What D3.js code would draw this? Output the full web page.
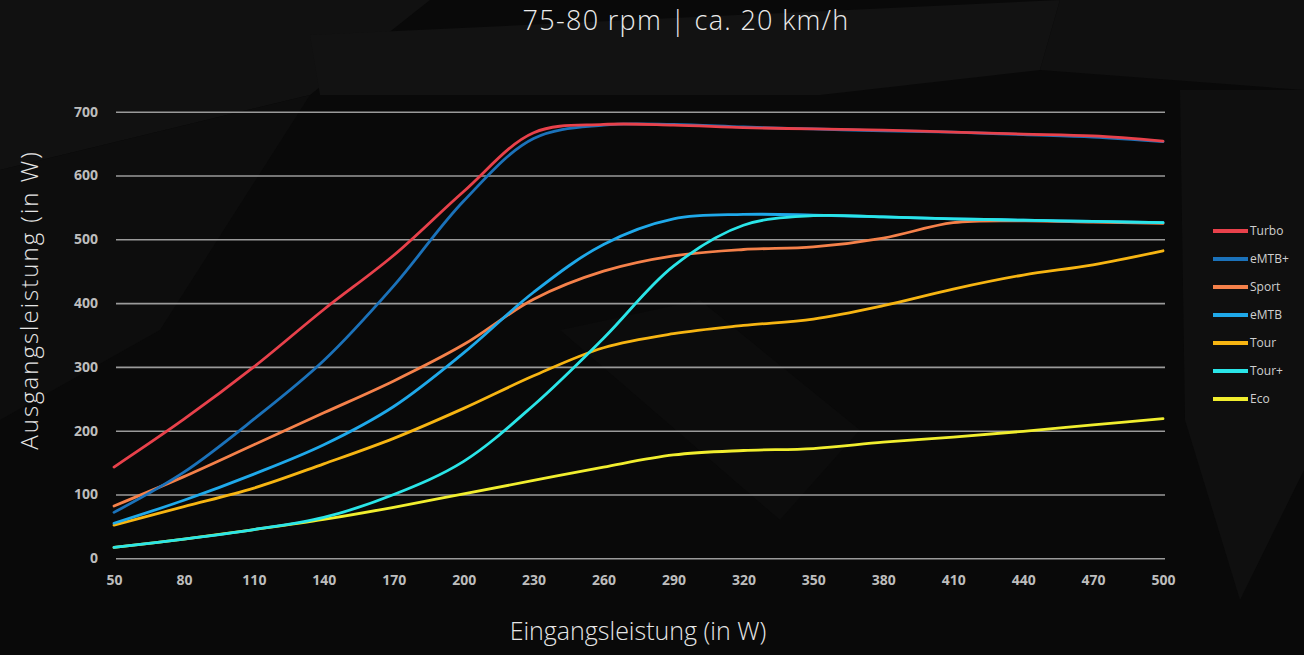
<!DOCTYPE html>
<html>
<head>
<meta charset="utf-8">
<script src="https://cdn.jsdelivr.net/npm/d3@7"></script>
<style>
  html, body { margin: 0; padding: 0; background: #090909; }
  svg { display: block; }
</style>
</head>
<body>
<main></main>
<script>
// Eingangsleistung (W) - Kategorien der x-Achse
const categories = [50, 80, 110, 140, 170, 200, 230, 260, 290, 320, 350, 380, 410, 440, 470, 500];
const yTicks = [0, 100, 200, 300, 400, 500, 600, 700];

// Ausgangsleistung (W) pro Modus
const turbo    = [143, 218, 300, 390, 475, 575, 667, 680, 679, 675, 673, 671, 668, 665, 662, 654];
const emtbPlus = [72, 135, 218, 310, 427, 560, 658, 679, 680, 676, 673, 670, 668, 664, 660, 653];
const sport    = [82, 128, 178, 228, 278, 335, 406, 450, 474, 484, 488, 502, 526, 529, 527, 525];
const emtb     = [55, 91, 132, 178, 238, 322, 417, 492, 532, 539, 538, 535, 532, 530, 528, 526];
const tour     = [52, 81, 110, 148, 188, 235, 286, 330, 352, 365, 375, 396, 422, 444, 460, 482];
const tourPlus = [17, 30, 45, 64, 100, 152, 240, 345, 458, 522, 537, 535, 532, 530, 528, 526];
const eco      = [17, 30, 45, 61, 80, 101, 122, 143, 162, 169, 172, 182, 190, 199, 209, 219];

const names  = ['Turbo', 'eMTB+', 'Sport', 'eMTB', 'Tour', 'Tour+', 'Eco'];
const values = [turbo, emtbPlus, sport, emtb, tour, tourPlus, eco];
const colors = ['#e8414b', '#1b72ba', '#f5814a', '#1fa9ea', '#f7b512', '#2ae5e8', '#f1ee2e'];
// Zeichenreihenfolge (untere Linien zuerst)
const drawOrder = [6, 4, 2, 3, 5, 1, 0];

const svgWidth = 1304, svgHeight = 655;
const margin = { top: 111.7, right: 141, bottom: 96.7, left: 114 };
const width = svgWidth - margin.left - margin.right;
const height = svgHeight - margin.top - margin.bottom;

const svg = d3.select('main').append('svg')
    .attr('width', svgWidth)
    .attr('height', svgHeight);

// Hintergrund (dunkle Polygone)
svg.append('rect').attr('width', svgWidth).attr('height', svgHeight).attr('fill', '#090909');
const bgPolys = [
    { pts: [[0, 0], [430, 0], [310, 95], [0, 170]], fill: '#111111' },
    { pts: [[310, 35], [1060, 0], [1040, 70], [820, 95], [320, 95]], fill: '#121212' },
    { pts: [[0, 170], [310, 95], [160, 330], [0, 420]], fill: '#0d0d0d' },
    { pts: [[1060, 0], [1304, 0], [1304, 90], [1040, 70]], fill: '#101010' },
    { pts: [[1180, 90], [1304, 90], [1304, 470], [1240, 600], [1185, 420]], fill: '#0f0f0f' },
    { pts: [[560, 330], [700, 300], [860, 430], [780, 520]], fill: '#0c0c0c' }
];
svg.append('g').selectAll('polygon')
    .data(bgPolys)
    .enter()
    .append('polygon')
    .attr('points', d => d.pts.map(p => p.join(',')).join(' '))
    .attr('fill', d => d.fill);

const g = svg.append('g')
    .attr('transform', `translate(${margin.left},${margin.top})`);

// Skalen
const xScale = d3.scaleLinear()
    .domain([d3.min(categories), d3.max(categories)])
    .range([0, width]);

const yScale = d3.scaleLinear()
    .domain([0, 700])
    .range([height, 0]);

// y-Achse mit Gitterlinien
const yAxis = g.append('g')
    .call(d3.axisLeft(yScale).tickValues(yTicks).tickSize(-(width + 2)).tickPadding(16));
yAxis.select('.domain').remove();
yAxis.selectAll('.tick line')
    .attr('x1', 2)
    .attr('stroke', '#9a9a9a')
    .attr('stroke-width', 1.6);
yAxis.selectAll('.tick text')
    .attr('fill', '#bdbdbd')
    .style('font', 'bold 14px "Open Sans", "Noto Sans", sans-serif');

// x-Achse
const xAxis = g.append('g')
    .attr('transform', `translate(0,${height})`)
    .call(d3.axisBottom(xScale).tickValues(categories).tickSize(0).tickPadding(17));
xAxis.select('.domain').remove();
xAxis.selectAll('.tick text')
    .attr('fill', '#bdbdbd')
    .style('font', 'bold 14px "Open Sans", "Noto Sans", sans-serif');

// Linien
const line = d3.line()
    .x((d, i) => xScale(categories[i]))
    .y(d => yScale(d))
    .curve(d3.curveCatmullRom.alpha(0.5));

g.selectAll('.serie')
    .data(drawOrder)
    .enter()
    .append('path')
    .attr('class', 'serie')
    .attr('d', k => line(values[k]))
    .attr('fill', 'none')
    .attr('stroke', k => colors[k])
    .attr('stroke-width', 2.8)
    .attr('stroke-linecap', 'round');

// Legende
const legend = svg.append('g')
    .attr('transform', 'translate(1213,231)');
const item = legend.selectAll('.item')
    .data(names)
    .enter()
    .append('g')
    .attr('transform', (d, i) => `translate(0,${i * 28})`);
item.append('line')
    .attr('x1', 0).attr('x2', 35)
    .attr('stroke', (d, i) => colors[i])
    .attr('stroke-width', 4);
item.append('text')
    .attr('x', 37)
    .attr('dy', '0.35em')
    .attr('fill', '#cfcfcf')
    .style('font', '12px "Open Sans", "Noto Sans", sans-serif')
    .text(d => d);

// Titel und Achsentitel
svg.append('text')
    .attr('x', 686)
    .attr('y', 30)
    .attr('text-anchor', 'middle')
    .attr('fill', '#ececec')
    .style('font', '300 27px "Open Sans", "Noto Sans", sans-serif')
    .style('letter-spacing', '1.3px')
    .text('75-80 rpm | ca. 20 km/h');

svg.append('text')
    .attr('x', 638)
    .attr('y', 640)
    .attr('text-anchor', 'middle')
    .attr('fill', '#e6e6e6')
    .style('font', '300 25px "Open Sans", "Noto Sans", sans-serif')
    .text('Eingangsleistung (in W)');

svg.append('text')
    .attr('transform', 'translate(38,300) rotate(-90)')
    .attr('text-anchor', 'middle')
    .attr('fill', '#e6e6e6')
    .style('font', '300 24px "Open Sans", "Noto Sans", sans-serif')
    .style('letter-spacing', '2px')
    .text('Ausgangsleistung (in W)');
</script>
</body>
</html>
